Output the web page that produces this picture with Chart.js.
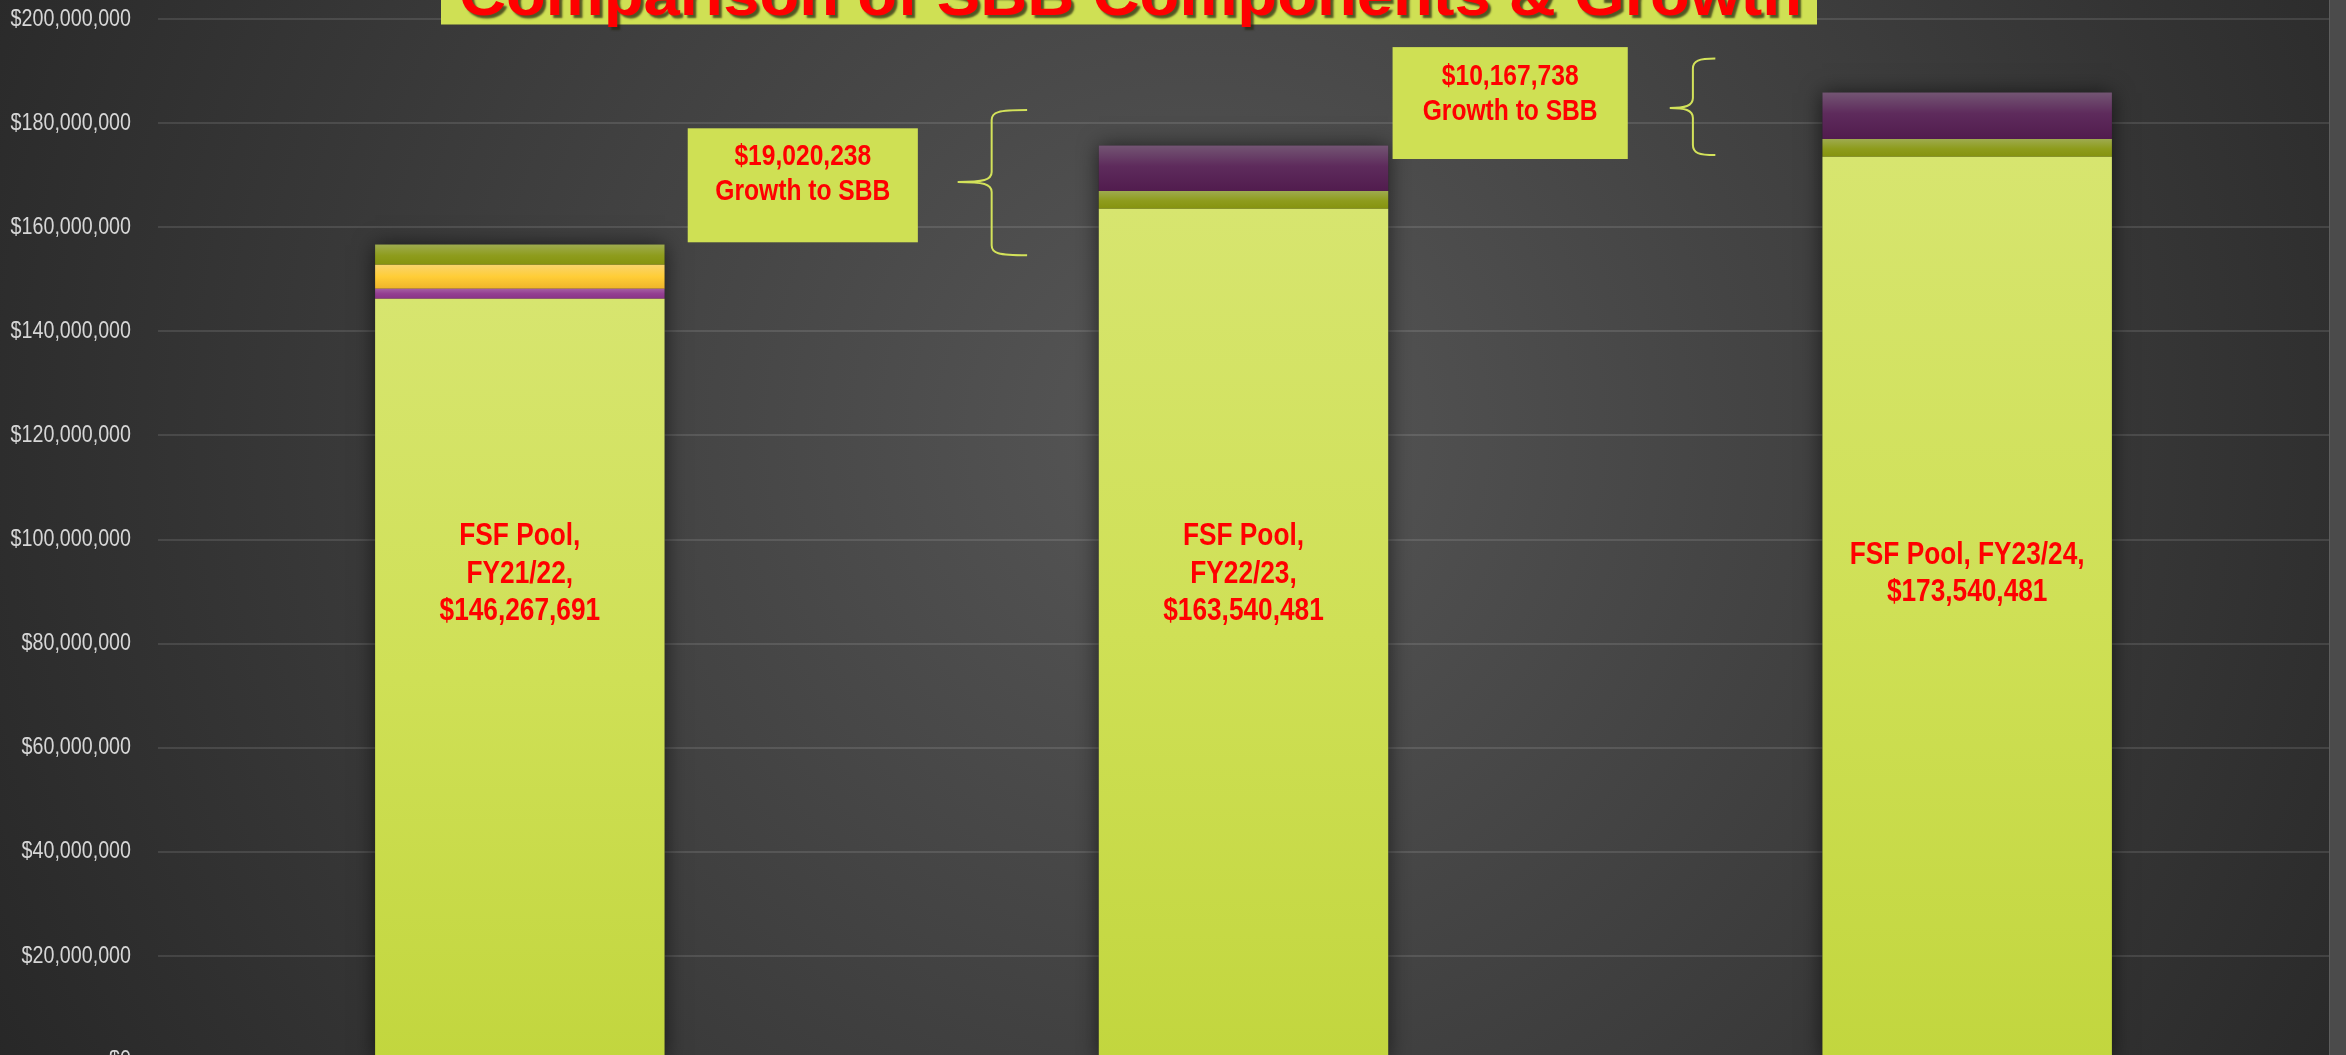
<!DOCTYPE html>
<html>
<head>
<meta charset="utf-8">
<title>Comparison of SBB Components &amp; Growth</title>
<script src="https://cdn.jsdelivr.net/npm/chart.js@4.4.1/dist/chart.umd.min.js"></script>
<style>
  html, body { margin: 0; padding: 0; background: #2b2b2b; overflow: hidden; }
  #wrap { width: 2346px; height: 1080px; }
</style>
</head>
<body>
<div id="wrap"><canvas id="sbb-chart" width="2346" height="1080"></canvas></div>
<script>
// 各年度数据
const categories = ['FY21/22', 'FY22/23', 'FY23/24'];
const fsfPool = [146267691, 163540481, 173540481];
const magentaPart = [1900000, 0, 0];
const goldPart = [4600000, 0, 0];
const olivePart = [3900000, 3400000, 3400000];
const plumPart = [0, 8747448, 8915186];
const growthToSbb = [19020238, 10167738];
const yMax = 200000000;
const yStep = 20000000;

const titleText = 'Comparison of SBB Components & Growth';

function money(v) {
    return '$' + v.toLocaleString('en-US');
}

// 检查窄体字体是否可用, 不可用时用横向压缩代替
const HAS_NARROW = (function () {
    const c = document.createElement('canvas').getContext('2d');
    c.font = '40px monospace';
    const w0 = c.measureText('Growth to SBB 0123').width;
    c.font = '40px "Liberation Sans Narrow", monospace';
    const w1 = c.measureText('Growth to SBB 0123').width;
    return Math.abs(w0 - w1) > 0.5;
})();

function narrowText(ctx, text, x, y, size, bold) {
    ctx.save();
    const weight = bold ? 'bold ' : '';
    if (HAS_NARROW) {
        ctx.font = weight + size + 'px "Liberation Sans Narrow", "Arial Narrow"';
        ctx.fillText(text, x, y);
    } else {
        ctx.font = weight + size + 'px "Liberation Sans", Arial, sans-serif';
        ctx.translate(x, y);
        ctx.scale(0.82, 1);
        ctx.fillText(text, 0, 0);
    }
    ctx.restore();
}

// 每段柱子的竖向渐变
function segGradient(stops) {
    return function (context) {
        const chart = context.chart;
        if (!chart.chartArea || context.type !== 'data') return stops[1][1];
        const y = chart.scales.y;
        const i = context.dataIndex;
        const d = context.datasetIndex;
        let base = 0;
        for (let k = 0; k < d; k++) base += chart.data.datasets[k].data[i];
        const top = y.getPixelForValue(base + chart.data.datasets[d].data[i]);
        const bottom = y.getPixelForValue(base);
        if (!(bottom - top > 0.5)) return stops[1][1];
        const g = chart.ctx.createLinearGradient(0, top, 0, bottom);
        stops.forEach(s => g.addColorStop(s[0], s[1]));
        return g;
    };
}

// 注释框和括号的位置 (x 为类别刻度, y 为数值刻度)
const callouts = [
    { box: [0.232, 0.550, 179.0e6, 157.1e6], text: [173.5e6, 166.9e6],
      brace: { x: 0.652, tip: 0.605, end: 0.701, top: 182.5e6, mid: 168.7e6, bottom: 154.6e6 } },
    { box: [1.206, 1.531, 194.6e6, 173.1e6], text: [188.9e6, 182.2e6],
      brace: { x: 1.621, tip: 1.589, end: 1.652, top: 192.4e6, mid: 182.9e6, bottom: 173.85e6 } }
];
const fsfLabelCenter = 93.4e6;

const fsfLabelLines = categories.map((c, i) => i < 2
    ? ['FSF Pool,', c + ',', money(fsfPool[i])]
    : ['FSF Pool, ' + c + ',', money(fsfPool[i])]);

// 背景
const backgroundPlugin = {
    id: 'bgFill',
    beforeDraw(chart) {
        const { ctx, width, height, chartArea } = chart;
        ctx.save();
        const g = ctx.createRadialGradient(1200, 430, 0, 1200, 430, 1400);
        g.addColorStop(0, '#575757');
        g.addColorStop(1, '#262626');
        ctx.fillStyle = g;
        ctx.fillRect(0, 0, width, height);
        // 右侧边条
        ctx.fillStyle = '#4b4b4b';
        ctx.fillRect(chartArea.right, 0, width - chartArea.right, height);
        ctx.fillStyle = '#5c5c5c';
        ctx.fillRect(chartArea.right, 0, 1, height);
        ctx.restore();
    }
};

// 柱子阴影
const barShadowPlugin = {
    id: 'barShadow',
    beforeDatasetsDraw(chart) {
        const { ctx } = chart;
        const y = chart.scales.y;
        const meta = chart.getDatasetMeta(0);
        ctx.save();
        ctx.shadowColor = 'rgba(0, 0, 0, 0.6)';
        ctx.shadowBlur = 20;
        ctx.fillStyle = '#222';
        meta.data.forEach((bar, i) => {
            let total = 0;
            chart.data.datasets.forEach(ds => { total += ds.data[i]; });
            const top = y.getPixelForValue(total);
            const bottom = y.getPixelForValue(0);
            ctx.fillRect(bar.x - bar.width / 2, top, bar.width, bottom - top);
        });
        ctx.restore();
    }
};

// 文字: y 轴标签, 柱内标签, 注释框, 标题
const textPlugin = {
    id: 'sbbText',
    afterDraw(chart) {
        const { ctx, chartArea } = chart;
        const x = chart.scales.x;
        const y = chart.scales.y;

        ctx.save();
        // y 轴标签
        ctx.fillStyle = '#d6d6d6';
        ctx.textAlign = 'right';
        ctx.textBaseline = 'middle';
        y.ticks.forEach(t => {
            narrowText(ctx, money(t.value), chartArea.left - 27, y.getPixelForValue(t.value), 24, false);
        });

        // 柱内标签
        ctx.fillStyle = '#ff0000';
        ctx.textAlign = 'center';
        const meta = chart.getDatasetMeta(0);
        const lineH = 37.5;
        fsfLabelLines.forEach((lines, i) => {
            const cx = meta.data[i].x;
            const cy = y.getPixelForValue(fsfLabelCenter);
            const y0 = cy - (lines.length - 1) * lineH / 2;
            lines.forEach((ln, k) => narrowText(ctx, ln, cx, y0 + k * lineH, 32, true));
        });

        // 增长注释
        callouts.forEach((c, k) => {
            const bx0 = x.getPixelForValue(c.box[0]);
            const bx1 = x.getPixelForValue(c.box[1]);
            const by0 = y.getPixelForValue(c.box[2]);
            const by1 = y.getPixelForValue(c.box[3]);
            ctx.fillStyle = '#cfe054';
            ctx.fillRect(bx0, by0, bx1 - bx0, by1 - by0);
            ctx.fillStyle = '#ff0000';
            const cx = (bx0 + bx1) / 2;
            narrowText(ctx, money(growthToSbb[k]), cx, y.getPixelForValue(c.text[0]), 30, true);
            narrowText(ctx, 'Growth to SBB', cx, y.getPixelForValue(c.text[1]), 30, true);

            const b = c.brace;
            const xv = x.getPixelForValue(b.x);
            const xt = x.getPixelForValue(b.tip);
            const xe = x.getPixelForValue(b.end);
            const yt = y.getPixelForValue(b.top);
            const ym = y.getPixelForValue(b.mid);
            const yb = y.getPixelForValue(b.bottom);
            ctx.strokeStyle = '#d3e25a';
            ctx.lineWidth = 2;
            ctx.beginPath();
            ctx.moveTo(xe, yt);
            ctx.bezierCurveTo(xv + 6, yt, xv, yt + 2, xv, yt + 10);
            ctx.lineTo(xv, ym - 10);
            ctx.bezierCurveTo(xv, ym - 2, xv - 8, ym, xt, ym);
            ctx.moveTo(xt, ym);
            ctx.bezierCurveTo(xv - 8, ym, xv, ym + 2, xv, ym + 10);
            ctx.lineTo(xv, yb - 10);
            ctx.bezierCurveTo(xv, yb - 2, xv + 6, yb, xe, yb);
            ctx.stroke();
        });

        // 标题 (只露出下半部分)
        ctx.fillStyle = '#cfe054';
        ctx.fillRect(441, 0, 1376, 24.5);
        ctx.font = 'bold 60px "Liberation Sans", Arial, sans-serif';
        ctx.textAlign = 'center';
        ctx.textBaseline = 'alphabetic';
        const tw = ctx.measureText(titleText).width;
        ctx.translate(1130.5, 15);
        ctx.scale(1343 / tw, 1);
        ctx.shadowColor = 'rgba(40, 40, 20, 0.75)';
        ctx.shadowOffsetX = 3;
        ctx.shadowOffsetY = 3;
        ctx.shadowBlur = 2;
        ctx.fillStyle = '#ff0000';
        ctx.fillText(titleText, 0, 0);
        ctx.restore();
    }
};

const ctx = document.getElementById('sbb-chart').getContext('2d');

window.sbbChart = new Chart(ctx, {
    type: 'bar',
    data: {
        labels: categories,
        datasets: [
            {
                label: 'FSF Pool',
                data: fsfPool,
                backgroundColor: segGradient([[0, '#d7e56f'], [0.5, '#cfe056'], [1, '#c2d63e']])
            },
            {
                label: 'Component A',
                data: magentaPart,
                backgroundColor: segGradient([[0, '#a55fa3'], [0.5, '#933f91'], [1, '#8a3487']])
            },
            {
                label: 'Component B',
                data: goldPart,
                backgroundColor: segGradient([[0, '#f9d46c'], [0.5, '#ffcd36'], [1, '#eeb42a']])
            },
            {
                label: 'Component C',
                data: olivePart,
                backgroundColor: segGradient([[0, '#9eab4f'], [0.55, '#8e9c1c'], [1, '#85930f']])
            },
            {
                label: 'Component D',
                data: plumPart,
                backgroundColor: segGradient([[0, '#735573'], [0.45, '#5e2b5c'], [1, '#511c4e']])
            }
        ]
    },
    options: {
        responsive: false,
        animation: false,
        devicePixelRatio: 1,
        layout: { padding: { top: 19, right: 17, bottom: 20, left: 0 } },
        datasets: {
            bar: { barPercentage: 0.4, categoryPercentage: 1.0, borderWidth: 0 }
        },
        plugins: {
            legend: { display: false },
            tooltip: { enabled: false }
        },
        scales: {
            x: {
                stacked: true,
                display: false
            },
            y: {
                stacked: true,
                min: 0,
                max: yMax,
                ticks: { stepSize: yStep, display: false },
                grid: { color: 'rgba(255, 255, 255, 0.11)', lineWidth: 2, drawTicks: false },
                border: { display: false },
                afterFit(scale) { scale.width = 158; }
            }
        }
    },
    plugins: [backgroundPlugin, barShadowPlugin, textPlugin]
});
</script>
</body>
</html>
